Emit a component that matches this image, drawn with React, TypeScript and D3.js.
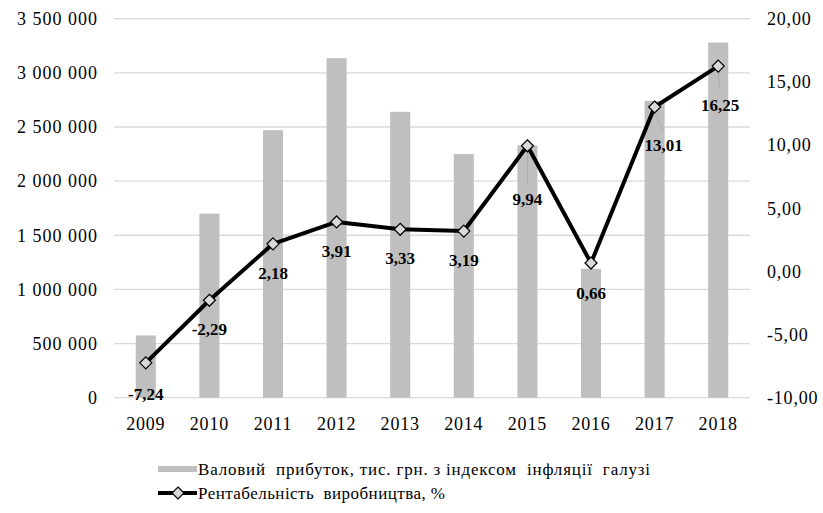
import React from "react";
import * as d3 from "d3";

const years = ["2009", "2010", "2011", "2012", "2013", "2014", "2015", "2016", "2017", "2018"];
const grossProfit = [575000, 1700000, 2470000, 3135000, 2640000, 2250000, 2330000, 1190000, 2740000, 3280000];
const profitability = [-7.24, -2.29, 2.18, 3.91, 3.33, 3.19, 9.94, 0.66, 13.01, 16.25];
const leftTicks = [0, 500000, 1000000, 1500000, 2000000, 2500000, 3000000, 3500000];
const rightTicks = [-10, -5, 0, 5, 10, 15, 20];
const barLegend = "Валовий  прибуток, тис. грн. з індексом  інфляції  галузі";
const lineLegend = "Рентабельність  виробництва, %";

// label offsets (dx, dy) relative to the marker, with optional leader line
const labelOffsets: [number, number, boolean][] = [
  [0, 31, false],
  [0, 29, false],
  [0, 29, false],
  [0, 29, false],
  [0, 29, false],
  [0, 29, false],
  [0, 53, true],
  [0, 30, false],
  [9, 38, true],
  [2, 39, true],
];

const fmtLeft = (v: number) => d3.format(",")(v).replace(/,/g, " ");
const fmtRight = (v: number) => v.toFixed(2).replace(".", ",");
const fmtLabel = (v: number) => v.toFixed(2).replace(".", ",");

export default function App() {
  const W = 823, H = 513;
  const x0 = 114, x1 = 750, yTop = 18.7, yBot = 397.7;
  const x = d3.scaleBand().domain(years).range([x0, x1]).paddingInner(0.685).paddingOuter(0.3425);
  const yL = d3.scaleLinear().domain([0, 3500000]).range([yBot, yTop]);
  const yR = d3.scaleLinear().domain([-10, 20]).range([yBot, yTop]);
  const cx = (y: string) => (x(y) as number) + x.bandwidth() / 2;
  const line = d3.line<number>().x((_, i) => cx(years[i])).y((d) => yR(d));
  const font = "'Liberation Serif', 'Times New Roman', serif";
  const diamond = (px: number, py: number, r = 6) =>
    `M${px},${py - r}L${px + r},${py}L${px},${py + r}L${px - r},${py}Z`;

  return (
    <svg width={W} height={H} style={{ position: "absolute", left: 0, top: 0, background: "#fff" }} fontFamily={font}>
      {leftTicks.map((t) => (
        <line key={"g" + t} x1={x0} x2={x1} y1={yL(t)} y2={yL(t)} stroke="#d9d9d9" strokeWidth={1.3} />
      ))}
      {grossProfit.map((v, i) => (
        <rect key={"b" + i} x={x(years[i])} y={yL(v)} width={x.bandwidth()} height={yBot - yL(v)} fill="#bfbfbf" />
      ))}
      {leftTicks.map((t) => (
        <text key={"l" + t} x={98} y={yL(t)} dy="0.35em" textAnchor="end" fontSize={18} letterSpacing={1} fill="#000">
          {fmtLeft(t)}
        </text>
      ))}
      {rightTicks.map((t) => (
        <text key={"r" + t} x={767} y={yR(t)} dy="0.35em" textAnchor="start" fontSize={18} letterSpacing={0.8} fill="#000">
          {fmtRight(t)}
        </text>
      ))}
      {years.map((yy) => (
        <text key={"x" + yy} x={cx(yy)} y={424} dy="0.35em" textAnchor="middle" fontSize={18} letterSpacing={0.8} fill="#000">
          {yy}
        </text>
      ))}
      {profitability.map((v, i) => {
        const [dx, dy, lead] = labelOffsets[i];
        if (!lead) return null;
        const px = cx(years[i]), py = yR(v);
        return <line key={"ld" + i} x1={px} y1={py + 6} x2={px + dx} y2={py + dy - 14} stroke="#a6a6a6" strokeWidth={0.8} />;
      })}
      <path d={line(profitability) || ""} fill="none" stroke="#000" strokeWidth={4} strokeLinejoin="round" />
      {profitability.map((v, i) => (
        <path key={"m" + i} d={diamond(cx(years[i]), yR(v))} fill="#d9d9d9" stroke="#000" strokeWidth={1.2} />
      ))}
      {profitability.map((v, i) => {
        const [dx, dy] = labelOffsets[i];
        return (
          <text key={"t" + i} x={cx(years[i]) + dx} y={yR(v) + dy} dy="0.35em" textAnchor="middle" fontSize={17} fontWeight="bold" fill="#000">
            {fmtLabel(v)}
          </text>
        );
      })}
      <rect x={158} y={466} width={39} height={6} fill="#bfbfbf" />
      <text x={198} y={469} dy="0.35em" fontSize={17} fill="#000" textLength={452} lengthAdjust="spacing" style={{ whiteSpace: "pre" }}>
        {barLegend}
      </text>
      <line x1={158} x2={197} y1={493} y2={493} stroke="#000" strokeWidth={4} />
      <path d={diamond(178, 493)} fill="#d9d9d9" stroke="#000" strokeWidth={1.2} />
      <text x={198} y={493} dy="0.35em" fontSize={17} fill="#000" textLength={247} lengthAdjust="spacing" style={{ whiteSpace: "pre" }}>
        {lineLegend}
      </text>
    </svg>
  );
}
